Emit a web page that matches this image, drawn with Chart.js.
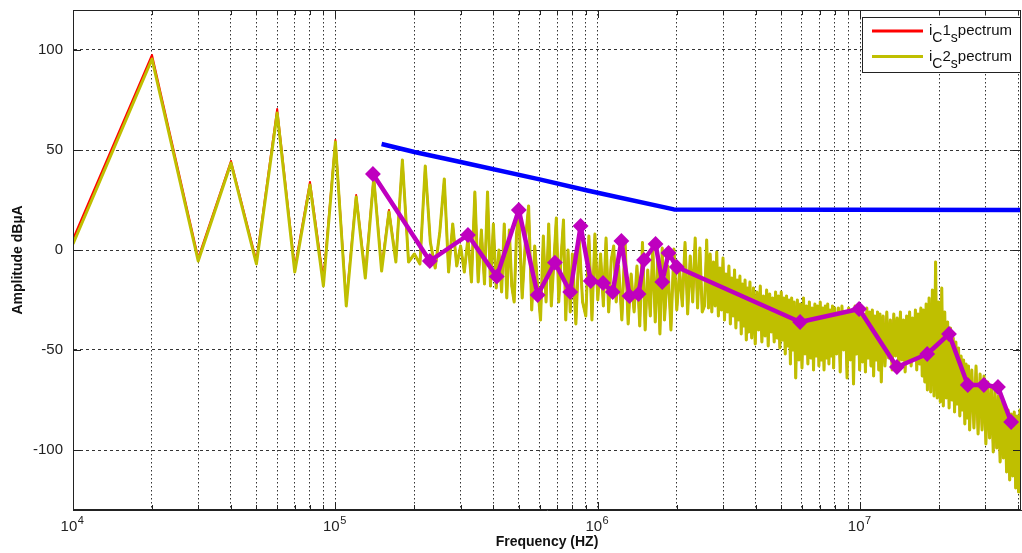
<!DOCTYPE html>
<html><head><meta charset="utf-8">
<script src="https://cdn.jsdelivr.net/npm/chart.js@4.4.1/dist/chart.umd.min.js"></script>
<style>html,body{margin:0;padding:0;background:#fff;}#wrap{width:1022px;height:553px;position:relative;}</style>
</head><body><div id="wrap"><canvas id="c" width="1022" height="553"></canvas></div>
<script>
// ---------- data ----------
const harmonicFreqKHz = [10,20,30,40,50,60,70,80,90,100,110,120,130,140,150,160,170];
const iC1HarmonicDb   = [5.5,97.5,-4,44.5,-5.5,70.5,-9,34,-15,55,-26,27.5,-12,37,-9,20,-5];
const iC2HarmonicDb   = [3,95.5,-5.5,43.5,-7,68.5,-11,32.5,-18,54,-28,26.5,-14,36,-10.5,19,-6];

const bandLowFreqKHz = [180,190,200,210,220,230,240,250,260,270,280,290,300,310,320,330,340,350,360,370,380,390,400,410,420,430,440,450,460,470,480,490,500,
 515,530,545,560,575,590,605,620,635,650,665,680,695,710,725,740,755,770,785,800,
 825,850,875,900,925,950,975,1000,1025,1050,1075,1100,1125,1150,1175,1200,
 1235,1270,1305,1340,1375,1410,1445,1480,1515,1550,1585,1620,1655,1690,1725,1760,1795,
 1850,1900,1950,2000,2050,2100,2150,2200,2250,2300,2350,2400,2450,2500,2550,2600];
const bandLowDb = [45,-6,-2,-7,42,4,-9,9,35.5,-11,13,-8,2,-11,6,-16,29,-16,10,-17,29,-18,13,-19,0,-21,13,-24,10,-18,-26,8,18,
 -24,5,22,-30,2,-18,-35,7,-26,13,-28,-6,16,-26,-3,15,-35,0,-31,-2,
 -37,5,-26,-33,7,-35,8,-25,-2,-28,6,-31,-5,2,-26,-8,
 -35,4.5,-37,-12,-31,-8,-38,3.7,-40,-10,-33,2,-36,-5,-42,1,-35,
 -8,-40,0.5,-30,-10,-28,3.7,-32,-3,-26,6,-29,1,-31,-28,5];

const bandHighFreqKHz = [
 2640,2680,2720,2760,2800,2840,2880,2920,2960,3000,3040,3080,3120,3160,3200,3240,3280,3320,3360,3400,3440,3480,3520,3560,3600,3640,3680,3720,3760,3800,
 3860,3920,3980,4040,4100,4160,4220,4280,4340,4400,4460,4520,4580,4640,4700,4760,4820,4880,4940,5000,5060,5120,5180,5240,5300,5360,5420,5480,5540,5600,
 5680,5760,5840,5920,6000,6080,6160,6240,6320,6400,6480,6560,6640,6720,6800,6880,6960,7040,7120,7200,7280,7360,7440,7520,7600,7680,7760,7840,7920,8000,
 8130,8260,8390,8520,8650,8780,8910,9040,9170,9300,9430,9560,9690,9820,9950,10080,10210,10340,10470,10600,10730,10860,10990,11120,11250,11380,11510,11640,11770,11900,12030,
 12230,12430,12630,12830,13030,13230,13430,13630,13830,14030,14230,14430,14630,14830,15030,15230,15430,15630,15830,16030,16230,16430,16630,16830,17030,17230,17430,17630,17830,18030,
 18300,18570,18840,19110,19380,19650,19920,20190,20460,20730,21000,21270,21540,21810,22080,22350,22620,22890,23160,23430,23700,23970,24240,24510,24780,25050,25320,25590,25860,26130,
 26630,27130,27630,28130,28630,29130,29630,30130,30630,31130,31630,32130,32630,33130,33630,34130,34630,35130,35630,36130,36630,37130,37630,38130,38630,39130,39630,40130,40630,41130];
const bandHighDb = [
 -29,-2,-31,-6,-28,-1,-33,-9,-30,-4,-35,-12,-31,-8,-37,-14,-33,-10,-39,-15,-35,-13,-42,-17,-38,-15,-45,-19,-41,-16,
 -44,-19,-47,-21,-40,-18,-46,-23,-43,-20,-48,-22,-41,-24,-46,-21,-44,-23,-49,-21,-45,-24,-52,-23,-48,-25,-57,-24,-50,-26,
 -64,-25,-55,-27,-59,-24,-52,-28,-57,-26,-54,-29,-60,-27,-53,-28,-58,-26,-55,-29,-60,-28,-54,-27,-57,-30,-53,-28,-59,-29,
 -52,-29,-61,-28,-50,-31,-64,-29,-55,-30,-67,-28,-52,-31,-60,-30,-56,-32,-61,-29,-54,-31,-58,-30,-63,-33,-55,-31,-60,-32,-66,
 -33,-58,-31,-54,-35,-60,-32,-53,-34,-59,-31,-55,-35,-61,-33,-56,-31,-58,-34,-54,-30,-60,-32,-57,-29,-63,-30,-66,-27,-70,
 -24,-71,-20,-73,-6,-74,-26,-76,-19,-78,-31,-74,-36,-79,-39,-75,-44,-81,-46,-77,-49,-83,-53,-80,-55,-87,-57,-84,-58,-90,
 -60,-89,-58,-92,-62,-90,-63,-97,-66,-94,-68,-101,-70,-99,-73,-106,-75,-104,-78,-111,-80,-115,-82,-113,-81,-119,-83,-121,-80,-125];

const limitFreqHz = [1.5e5,2e5,3e5,6e5,9.3e5,1.95e6,4.1e7];
const limitDb     = [53,49,44,35.3,29.5,20.3,20];

const measFreqHz = [1.39e5,2.29e5,3.2e5,4.12e5,5.0e5,5.9e5,6.86e5,7.85e5,8.6e5,9.4e5,1.047e6,1.14e6,1.23e6,1.32e6,1.43e6,1.5e6,1.66e6,1.76e6,1.86e6,2.0e6,5.9e6,9.9e6,1.38e7,1.80e7,2.18e7,2.57e7,2.96e7,3.35e7,3.76e7];
const measDb     = [38,-5.5,7.5,-13.3,20,-22.5,-6.3,-21,12,-15.5,-16.5,-21,4.5,-23,-22,-5,3,-16,-1.5,-8.5,-36,-29.5,-58.5,-52,-42,-67.5,-67.5,-68.5,-86];

const xTickValues = [1e4,2e4,3e4,4e4,5e4,6e4,7e4,8e4,9e4,1e5,2e5,3e5,4e5,5e5,6e5,7e5,8e5,9e5,1e6,2e6,3e6,4e6,5e6,6e6,7e6,8e6,9e6,1e7,2e7,3e7,4e7];
const xMajorValues = [1e4,1e5,1e6,1e7];
const xMajorBase = '10';
const xMajorExponents = ['4','5','6','7'];
const yTickValues = [-100,-50,0,50,100];

const legendEntries = [
  {color:'#ff0000', parts:[['i',0],['C',1],['1',0],['s',1],['pectrum',0]]},
  {color:'#bfbf00', parts:[['i',0],['C',1],['2',0],['s',1],['pectrum',0]]}
];

// ---------- build ----------
const pts = (f, v, k) => f.map((x, i) => ({x: x * k, y: v[i]}));
const bandPts = pts(bandLowFreqKHz, bandLowDb, 1e3).concat(pts(bandHighFreqKHz, bandHighDb, 1e3));
const iC1 = pts(harmonicFreqKHz, iC1HarmonicDb, 1e3).concat(bandPts);
const iC2 = pts(harmonicFreqKHz, iC2HarmonicDb, 1e3).concat(bandPts);
const limit = pts(limitFreqHz, limitDb, 1);
const meas = pts(measFreqHz, measDb, 1);

const FONT = '"Liberation Sans", Arial, Helvetica, sans-serif';
Chart.defaults.font.family = FONT;

const framePlugin = {
  id: 'frame',
  afterDatasetsDraw(chart) {
    const ctx = chart.ctx, a = chart.chartArea;
    const xs = chart.scales.x, ys = chart.scales.y;
    ctx.save();
    ctx.strokeStyle = '#222'; ctx.lineWidth = 1;
    ctx.strokeRect(a.left + 0.5, a.top + 0.5, a.right - a.left - 1, a.bottom - a.top - 1);
    ctx.beginPath();
    xTickValues.forEach(v => {
      const px = Math.round(xs.getPixelForValue(v)) + 0.5;
      const len = xMajorValues.includes(v) ? 8 : 5;
      ctx.moveTo(px, a.bottom); ctx.lineTo(px, a.bottom - len);
      ctx.moveTo(px, a.top); ctx.lineTo(px, a.top + len);
    });
    yTickValues.forEach(v => {
      const py = Math.round(ys.getPixelForValue(v)) + 0.5;
      ctx.moveTo(a.left, py); ctx.lineTo(a.left + 8, py);
      ctx.moveTo(a.right, py); ctx.lineTo(a.right - 8, py);
    });
    ctx.stroke();
    // x major labels: 10 with superscript exponent
    ctx.fillStyle = '#222';
    ctx.textBaseline = 'alphabetic';
    xMajorValues.forEach((v, i) => {
      const px = xs.getPixelForValue(v);
      ctx.font = '15px ' + FONT;
      const wb = ctx.measureText(xMajorBase).width;
      ctx.font = '11px ' + FONT;
      const we = ctx.measureText(xMajorExponents[i]).width;
      const x0 = px - (wb + we) / 2 - 1;
      ctx.font = '15px ' + FONT;
      ctx.fillText(xMajorBase, x0, a.bottom + 21);
      ctx.font = '11px ' + FONT;
      ctx.fillText(xMajorExponents[i], x0 + wb + 0.5, a.bottom + 14);
    });
    ctx.restore();
  },
  afterDraw(chart) {
    const ctx = chart.ctx, a = chart.chartArea;
    const bw = 158, bh = 55;
    const bx = a.right - bw - 1, by = a.top + 7;
    ctx.save();
    ctx.fillStyle = '#fff';
    ctx.fillRect(bx, by, bw, bh);
    ctx.strokeStyle = '#222'; ctx.lineWidth = 1;
    ctx.strokeRect(bx + 0.5, by + 0.5, bw, bh);
    legendEntries.forEach((e, i) => {
      const cy = by + 14 + i * 25.5;
      ctx.strokeStyle = e.color; ctx.lineWidth = 3;
      ctx.beginPath(); ctx.moveTo(bx + 10, cy); ctx.lineTo(bx + 61, cy); ctx.stroke();
      let x = bx + 67;
      ctx.fillStyle = '#111';
      ctx.textBaseline = 'alphabetic';
      e.parts.forEach(([t, sub]) => {
        ctx.font = (sub ? '14px ' : '15px ') + FONT;
        ctx.fillText(t, x, cy + 4 + (sub ? 7 : 0));
        x += ctx.measureText(t).width;
      });
    });
    ctx.restore();
  }
};

new Chart(document.getElementById('c'), {
  type: 'line',
  data: {
    datasets: [
      {label: 'iC1spectrum', data: iC1, borderColor: '#ff0000', borderWidth: 2, pointRadius: 0, order: 4},
      {label: 'iC2spectrum', data: iC2, borderColor: '#bfbf00', borderWidth: 3, pointRadius: 0, order: 3},
      {label: 'limit', data: limit, borderColor: '#0000ff', borderWidth: 4.5, pointRadius: 0, order: 2},
      {label: 'measured', data: meas, borderColor: '#bf00bf', backgroundColor: '#bf00bf', borderWidth: 4.5,
       pointStyle: 'rectRot', pointRadius: 6.5, pointBorderWidth: 2, order: 1}
    ]
  },
  options: {
    responsive: false, animation: false, devicePixelRatio: 1,
    parsing: true, normalized: true,
    elements: {line: {tension: 0, borderJoinStyle: 'round'}},
    layout: {autoPadding: false, padding: {top: 10, right: 1, left: 0, bottom: 0}},
    plugins: {legend: {display: false}, tooltip: {enabled: false}},
    scales: {
      x: {
        type: 'logarithmic', min: 1e4, max: 4.1e7,
        afterBuildTicks: s => { s.ticks = xTickValues.map(v => ({value: v, major: xMajorValues.includes(v)})); },
        afterFit: s => { s.height = 43; s.paddingLeft = 0; s.paddingRight = 0; s.paddingTop = 0; s.paddingBottom = 0; },
        ticks: {autoSkip: false, maxRotation: 0, minRotation: 0, padding: 6, color: '#222', font: {size: 15},
          callback: () => ''},
        grid: {color: '#333', lineWidth: 1, drawTicks: false},
        border: {display: true, color: '#222', width: 1, dash: [1.5, 2.5]},
        title: {display: true, text: 'Frequency (HZ)', color: '#111', font: {size: 14, weight: 'bold'}, padding: {top: 0, bottom: 2}}
      },
      y: {
        type: 'linear', min: -130, max: 120,
        afterBuildTicks: s => { s.ticks = yTickValues.map(v => ({value: v})); },
        afterFit: s => { s.width = 73; s.paddingLeft = 0; s.paddingRight = 0; s.paddingTop = 0; s.paddingBottom = 0; },
        ticks: {padding: 10, color: '#222', font: {size: 15}},
        grid: {color: '#333', lineWidth: 1, drawTicks: false},
        border: {display: true, color: '#222', width: 1, dash: [3, 3]},
        title: {display: true, text: 'Amplitude dB\u00b5A', color: '#111', font: {size: 14, weight: 'bold'}, padding: {top: 10, bottom: 0}}
      }
    }
  },
  plugins: [framePlugin]
});
</script></body></html>
